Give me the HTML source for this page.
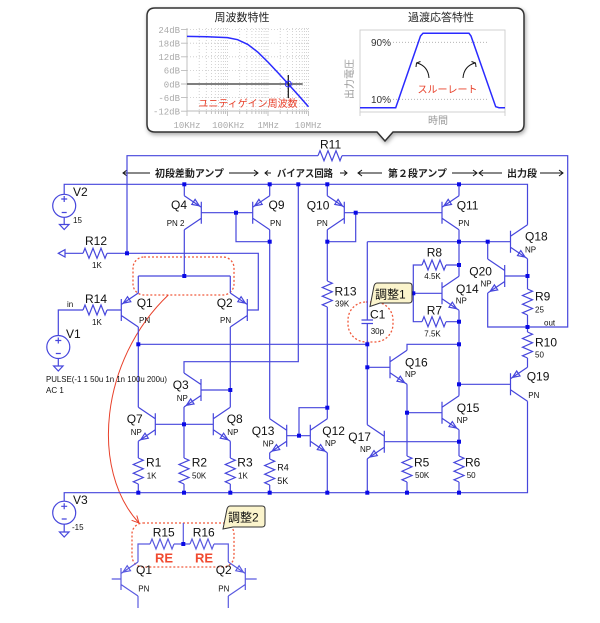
<!DOCTYPE html>
<html><head><meta charset="utf-8"><style>
html,body{margin:0;padding:0;background:#fff;}
svg{display:block;}
</style></head><body>
<svg width="600" height="623" viewBox="0 0 600 623" xmlns="http://www.w3.org/2000/svg" xmlns:xlink="http://www.w3.org/1999/xlink" font-family="'Liberation Sans','Noto Sans CJK JP',sans-serif">
<defs>
<filter id="sh" x="-5%" y="-5%" width="115%" height="125%"><feDropShadow dx="1" dy="2" stdDeviation="2" flood-color="#000" flood-opacity="0.35"/></filter>
<path id="rv" d="M0,0L5,2.2L-5,6.5L5,10.8L-5,15.2L5,19.5L-5,23.8L0,26"/>
<path id="rh" d="M0,0L2,-5L6,5L10,-5L14,5L18,-5L22,5L24,0"/>
<g id="npn"><path d="M0,-11V11M0,-5.5L17,-17M0,5.5L17,17"/><path d="M14.5,15.3L7,13.9L10.3,8.9Z"/></g>
<g id="pnp"><path d="M0,-11V11M0,-5.5L17,-17M0,5.5L17,17"/><path d="M2,-6.9L9.5,-8.3L6.2,-13.3Z"/></g>
</defs>
<rect width="600" height="623" fill="#fff"/>

<!-- ===== top callout ===== -->
<path d="M155,8H516Q524,8 524,16V124Q524,132 516,132H393L385,141L377,132H155Q147,132 147,124V16Q147,8 155,8Z" fill="#fff" stroke="#333" stroke-width="1.5" filter="url(#sh)"/>
<text x="242" y="21" font-size="11" text-anchor="middle" fill="#222">周波数特性</text>
<text x="441" y="21" font-size="11" text-anchor="middle" fill="#222">過渡応答特性</text>

<!-- left chart -->
<g stroke="#c8c8c8" stroke-width="0.8" stroke-dasharray="1 2" fill="none">
<path d="M199.2,28V111M206.3,28V111M211.4,28V111M215.3,28V111M218.5,28V111M221.2,28V111M223.6,28V111M225.6,28V111M227.5,28V111M239.7,28V111M246.8,28V111M251.9,28V111M255.8,28V111M259,28V111M261.7,28V111M264.1,28V111M266.1,28V111M268,28V111M280.2,28V111M287.3,28V111M292.4,28V111M296.3,28V111M299.5,28V111M302.2,28V111M304.6,28V111M306.6,28V111M308.5,28V111"/>
<path d="M187,29.6H308.5M187,43.2H308.5M187,56.8H308.5M187,70.4H308.5M187,97.6H308.5"/>
</g>
<g stroke="#bbb" stroke-width="0.9" fill="none">
<path d="M187,28V111H308.5"/>
<path d="M181,29.6H187M181,43.2H187M181,56.8H187M181,70.4H187M181,84H187M181,97.6H187M181,111.2H187"/>
<path d="M187,111V116M199.2,111V114M206.3,111V114M211.4,111V114M215.3,111V114M218.5,111V114M221.2,111V114M223.6,111V114M225.6,111V114M227.5,111V116M239.7,111V114M246.8,111V114M251.9,111V114M255.8,111V114M259,111V114M261.7,111V114M264.1,111V114M266.1,111V114M268,111V116M280.2,111V114M287.3,111V114M292.4,111V114M296.3,111V114M299.5,111V114M302.2,111V114M304.6,111V114M306.6,111V114M308.5,111V116"/>
</g>
<g font-family="'Liberation Mono',monospace" font-size="9" fill="#aaa" text-anchor="end">
<text x="180" y="33">24dB</text><text x="180" y="46.5">18dB</text><text x="180" y="60">12dB</text><text x="180" y="73.7">6dB</text><text x="180" y="87.3">0dB</text><text x="180" y="101">-6dB</text><text x="180" y="114.5">-12dB</text>
</g>
<g font-family="'Liberation Mono',monospace" font-size="9" fill="#aaa" text-anchor="middle">
<text x="187" y="128">10KHz</text><text x="228.3" y="128">100KHz</text><text x="268.3" y="128">1MHz</text><text x="308.3" y="128">10MHz</text>
</g>
<path d="M187,84H302.7" stroke="#555" stroke-width="1.5"/>
<polyline points="187,36.4 207,36.8 227.5,37.6 237.6,39.7 247.75,44.4 257.9,52.2 268,62.1 278.1,72.9 288.25,84 298.4,95.3 308.5,106.7" fill="none" stroke="#2a2aff" stroke-width="1.5"/>
<path d="M288.3,75V98" stroke="#111" stroke-width="1.2"/>
<circle cx="288.3" cy="84" r="3" fill="none" stroke="#2a2aff" stroke-width="1"/>
<text x="248" y="107" font-size="10" text-anchor="middle" fill="#e8402a">ユニティゲイン周波数</text>

<!-- right chart -->
<rect x="360" y="30" width="145" height="82" fill="none" stroke="#ccc" stroke-width="0.9"/>
<path d="M360,112V116M505,112V116" stroke="#ccc" stroke-width="0.9"/>
<path d="M393,42.3H487M393,99.3H487" stroke="#aaa" stroke-width="0.8" stroke-dasharray="1 2"/>
<polyline points="360,107.7 395.7,107.7 420.5,36 423,33.3 469,33.3 471,36 495.7,106.7 499,107.7 505,107.7" fill="none" stroke="#2a2aff" stroke-width="1.5"/>
<text x="371" y="46" font-size="10" fill="#333">90%</text>
<text x="371" y="103" font-size="10" fill="#333">10%</text>
<text transform="translate(353,79) rotate(-90)" font-size="10" text-anchor="middle" fill="#999">出力電圧</text>
<text x="438" y="124" font-size="10" text-anchor="middle" fill="#999">時間</text>
<g stroke="#111" stroke-width="1" fill="none">
<path d="M429,78Q428,66 417,63"/><path d="M416,67L416.5,63L420.5,61.5"/>
<path d="M463,78Q464,66 475,63"/><path d="M476,67L475.5,63L471.5,61.5"/>
</g>
<text x="447.5" y="93" font-size="10" text-anchor="middle" fill="#e8402a">スルーレート</text>

<!-- ===== section header ===== -->
<g stroke="#111" stroke-width="1" fill="none">
<path d="M123,173H150M127,170L123,173L127,176"/>
<path d="M229,173H258M254,170L258,173L254,176"/>
<path d="M265,173H271M268,170.5L265,173L268,175.5"/>
<path d="M340,173H347M344,170.5L347,173L344,175.5"/>
<path d="M358,173H382M362,170L358,173L362,176"/>
<path d="M452,173H477M473,170L477,173L473,176"/>
<path d="M479,173H502M483,170L479,173L483,176"/>
<path d="M540,173H563M559,170L563,173L559,176"/>
</g>
<g font-size="10" font-weight="bold" fill="#222">
<text x="155" y="177" textLength="69" lengthAdjust="spacingAndGlyphs">初段差動アンプ</text>
<text x="277" y="177" textLength="56" lengthAdjust="spacingAndGlyphs">バイアス回路</text>
<text x="388" y="177" textLength="59" lengthAdjust="spacingAndGlyphs">第２段アンプ</text>
<text x="507" y="177" textLength="30" lengthAdjust="spacingAndGlyphs">出力段</text>
</g>

<!-- ===== red annotations (under wires) ===== -->
<g stroke="#f05a3c" stroke-width="1.3" stroke-dasharray="2 2" fill="none">
<rect x="133" y="257" width="101" height="38" rx="11"/>
<rect x="348" y="302" width="45" height="40" rx="18"/>
<rect x="132" y="523" width="102" height="44" rx="11"/>
</g>
<path d="M168.3,295C100,360 90,470 139,523" fill="none" stroke="#e8402a" stroke-width="1"/>
<polyline points="136.8,515.5 139,523 131.6,520.3" fill="none" stroke="#e8402a" stroke-width="1"/>

<!-- ===== circuit wires ===== -->
<g stroke="#4646dc" stroke-width="1.2" fill="none">
<path d="M127,253.3V155.7H318M342,155.7H567.7V327H487.7V293"/>
<path d="M64.2,194.3V184.3H527.5V224.7"/>
<path d="M184.3,229.7V276M138.3,276H230.3M138.3,276V293M230.3,276V293"/>
<path d="M201.3,212.7H252.7M236,212.7V241.7H269.7"/>
<path d="M269.7,195.7V184.3M184.3,195.7V184.3"/>
<path d="M269.7,229.7V418.7"/>
<path d="M65,253.3H83M107,253.3H258.3V310H247.3"/>
<path d="M58.3,335.5V310H83M107,310H121.3"/>
<path d="M138.3,327V407.3M138.3,344.3H367.3M138.3,441.3V458M138.3,484V492.7"/>
<path d="M155.3,424.3H213.3"/>
<path d="M230.3,327V407.3M230.3,441.3V458M230.3,484V492.7"/>
<path d="M201,390H230.3M184,373V361.7H298.3V184.3M184,407V458M184,484V492.7"/>
<path d="M64.2,501.2V492.7H527.5V401.3"/>
<path d="M327.3,195.7V184.3M327.3,229.7V281M327.3,307V418.7"/>
<path d="M344.3,212.7H442M355.7,212.7V241.7H327.3"/>
<path d="M286.7,435.7H310.3M299,435.7V407.7H327.3"/>
<path d="M269.7,452.7V459M269.7,485V492.7M327.3,452.7V492.7"/>
<path d="M459,195.7V184.3M459,229.7V276.3"/>
<path d="M367.3,241.7H510.5M367.3,241.7V320M367.3,323.5V424.7"/>
<path d="M361.5,320H373M361.5,323.5H373"/>
<path d="M527.5,258.7V289M527.5,315V332M527.5,358V367.3"/>
<path d="M487.7,259V241.7M504.7,276H527.5"/>
<path d="M459,265H446M422,265H413.3V321.7H422M446,321.7H459M413.3,293.3H442"/>
<path d="M459,310.3V395.7"/>
<path d="M407,350.3V344.3H459M367.3,367.3H390M407,384.3V456M407,482V492.7M407,412.7H442"/>
<path d="M459,429.7V456M459,482V492.7M384.3,441.7H459"/>
<path d="M367.3,458.7V492.7"/>
<path d="M459,384.3H510.5"/>
<!-- resistors -->
<use href="#rv" xlink:href="#rv" transform="translate(138.3,458)"/>
<use href="#rv" xlink:href="#rv" transform="translate(184,458)"/>
<use href="#rv" xlink:href="#rv" transform="translate(230.3,458)"/>
<use href="#rv" xlink:href="#rv" transform="translate(269.7,459)"/>
<use href="#rv" xlink:href="#rv" transform="translate(407,456)"/>
<use href="#rv" xlink:href="#rv" transform="translate(459,456)"/>
<use href="#rv" xlink:href="#rv" transform="translate(327.3,281)"/>
<use href="#rv" xlink:href="#rv" transform="translate(527.5,289)"/>
<use href="#rv" xlink:href="#rv" transform="translate(527.5,332)"/>
<use href="#rh" xlink:href="#rh" transform="translate(83,253.3)"/>
<use href="#rh" xlink:href="#rh" transform="translate(83,310)"/>
<use href="#rh" xlink:href="#rh" transform="translate(318,155.7)"/>
<use href="#rh" xlink:href="#rh" transform="translate(422,265)"/>
<use href="#rh" xlink:href="#rh" transform="translate(422,321.7)"/>
<!-- transistors -->
<use href="#pnp" xlink:href="#pnp" transform="translate(252.7,212.7)"/>
<use href="#pnp" xlink:href="#pnp" transform="translate(442,212.7)"/>
<use href="#pnp" xlink:href="#pnp" transform="translate(121.3,310)"/>
<use href="#pnp" xlink:href="#pnp" transform="translate(510.5,384.3)"/>
<use href="#pnp" xlink:href="#pnp" transform="translate(201.3,212.7) scale(-1,1)"/>
<use href="#pnp" xlink:href="#pnp" transform="translate(344.3,212.7) scale(-1,1)"/>
<use href="#pnp" xlink:href="#pnp" transform="translate(247.3,310) scale(-1,1)"/>
<use href="#npn" xlink:href="#npn" transform="translate(213.3,424.3)"/>
<use href="#npn" xlink:href="#npn" transform="translate(310.3,435.7)"/>
<use href="#npn" xlink:href="#npn" transform="translate(390,367.3)"/>
<use href="#npn" xlink:href="#npn" transform="translate(442,412.7)"/>
<use href="#npn" xlink:href="#npn" transform="translate(442,293.3)"/>
<use href="#npn" xlink:href="#npn" transform="translate(510.5,241.7)"/>
<use href="#npn" xlink:href="#npn" transform="translate(155.3,424.3) scale(-1,1)"/>
<use href="#npn" xlink:href="#npn" transform="translate(201,390) scale(-1,1)"/>
<use href="#npn" xlink:href="#npn" transform="translate(286.7,435.7) scale(-1,1)"/>
<use href="#npn" xlink:href="#npn" transform="translate(384.3,441.7) scale(-1,1)"/>
<use href="#npn" xlink:href="#npn" transform="translate(504.7,276) scale(-1,1)"/>
<!-- sources -->
<circle cx="64.2" cy="205.8" r="11.5"/>
<path d="M61.2,199H67.2M64.2,196V202M61.7,212.5H66.7"/>
<path d="M64.2,217.3V224.5M59.5,224.5H69L64.2,229.5Z"/>
<circle cx="58.3" cy="347" r="11.5"/>
<path d="M55.3,340.5H61.3M58.3,337.5V343.5M55.8,353.5H60.8"/>
<path d="M58.3,358.5V366M53.6,366H63L58.3,371Z"/>
<circle cx="64.2" cy="512.7" r="11.5"/>
<path d="M61.2,506.3H67.2M64.2,503.3V509.3M61.7,519H66.7"/>
<path d="M64.2,524.2V532M59.5,532H69L64.2,537Z"/>
<path d="M58.3,253.3L65,249.6V257Z"/>
</g>

<!-- lower detail -->
<g stroke="#5a5ae0" stroke-width="1.2" fill="none">
<path d="M138,562V544H150M174,544H183.3V523M183.3,544H190M214,544H228.3V562"/>
<path d="M111.7,579H121M245.3,579H256.7M138,596V608M228.3,596V608"/>
<use href="#rh" xlink:href="#rh" transform="translate(150,544)"/>
<use href="#rh" xlink:href="#rh" transform="translate(190,544)"/>
<use href="#pnp" xlink:href="#pnp" transform="translate(121,579)"/>
<use href="#pnp" xlink:href="#pnp" transform="translate(245.3,579) scale(-1,1)"/>
</g>

<!-- nodes -->
<g fill="#0a0ae6">
<rect x="125" y="251.3" width="4" height="4"/>
<rect x="182.3" y="182.3" width="4" height="4"/>
<rect x="267.7" y="182.3" width="4" height="4"/>
<rect x="296.3" y="182.3" width="4" height="4"/>
<rect x="325.3" y="182.3" width="4" height="4"/>
<rect x="457" y="182.3" width="4" height="4"/>
<rect x="234" y="210.7" width="4" height="4"/>
<rect x="267.7" y="239.7" width="4" height="4"/>
<rect x="182.3" y="274" width="4" height="4"/>
<rect x="136.3" y="342.3" width="4" height="4"/>
<rect x="365.3" y="342.3" width="4" height="4"/>
<rect x="228.3" y="388" width="4" height="4"/>
<rect x="182" y="422.3" width="4" height="4"/>
<rect x="136.3" y="490.7" width="4" height="4"/>
<rect x="182" y="490.7" width="4" height="4"/>
<rect x="228.3" y="490.7" width="4" height="4"/>
<rect x="267.7" y="490.7" width="4" height="4"/>
<rect x="325.3" y="490.7" width="4" height="4"/>
<rect x="365.3" y="490.7" width="4" height="4"/>
<rect x="405" y="490.7" width="4" height="4"/>
<rect x="457" y="490.7" width="4" height="4"/>
<rect x="325.3" y="239.7" width="4" height="4"/>
<rect x="353.7" y="210.7" width="4" height="4"/>
<rect x="297" y="433.7" width="4" height="4"/>
<rect x="325.3" y="405.7" width="4" height="4"/>
<rect x="365.3" y="365.3" width="4" height="4"/>
<rect x="405" y="410.7" width="4" height="4"/>
<rect x="457" y="439.7" width="4" height="4"/>
<rect x="457" y="382.3" width="4" height="4"/>
<rect x="457" y="342.3" width="4" height="4"/>
<rect x="457" y="319.7" width="4" height="4"/>
<rect x="457" y="263" width="4" height="4"/>
<rect x="457" y="239.7" width="4" height="4"/>
<rect x="411.3" y="291.3" width="4" height="4"/>
<rect x="485.7" y="239.7" width="4" height="4"/>
<rect x="525.5" y="274" width="4" height="4"/>
<rect x="525.5" y="325" width="4" height="4"/>
<rect x="181.3" y="542" width="4" height="4"/>
</g>

<!-- ===== labels ===== -->
<g font-size="12" fill="#111">
<text x="73" y="196">V2</text>
<text x="66" y="338">V1</text>
<text x="73" y="504">V3</text>
<text x="320" y="148.3">R11</text>
<text x="85" y="245">R12</text>
<text x="85" y="303">R14</text>
<text x="171" y="209">Q4</text>
<text x="268.5" y="209">Q9</text>
<text x="306.7" y="209.3">Q10</text>
<text x="456.7" y="209.3">Q11</text>
<text x="136.7" y="307">Q1</text>
<text x="216.7" y="307">Q2</text>
<text x="172.7" y="389">Q3</text>
<text x="126.7" y="423">Q7</text>
<text x="226.7" y="423">Q8</text>
<text x="251.7" y="435">Q13</text>
<text x="322.3" y="435">Q12</text>
<text x="348.3" y="441">Q17</text>
<text x="405" y="366.7">Q16</text>
<text x="456.7" y="412">Q15</text>
<text x="456" y="293">Q14</text>
<text x="469.3" y="275.7">Q20</text>
<text x="525" y="240.7">Q18</text>
<text x="526.7" y="380.7">Q19</text>
<text x="146" y="466.7">R1</text>
<text x="191.7" y="466.7">R2</text>
<text x="237.3" y="466.7">R3</text>
<text x="414" y="466.7">R5</text>
<text x="465" y="466.7">R6</text>
<text x="334.5" y="295.7">R13</text>
<text x="426.7" y="256.7">R8</text>
<text x="426.7" y="314.3">R7</text>
<text x="535" y="300.7">R9</text>
<text x="535" y="346.7">R10</text>
<text x="370" y="318.3">C1</text>
<text x="152.7" y="536.7">R15</text>
<text x="192.7" y="536.7">R16</text>
<text x="136" y="574">Q1</text>
<text x="215.7" y="574">Q2</text>
</g>
<g font-size="9" fill="#111">
<text x="277.3" y="470.7">R4</text>
<text x="277.3" y="484">5K</text>
</g>
<g font-size="8" fill="#111">
<text x="73" y="223">15</text>
<text x="72" y="530">-15</text>
<text x="92" y="268">1K</text>
<text x="92" y="325">1K</text>
<text x="67" y="307">in</text>
<text x="166.7" y="226">PN 2</text>
<text x="270" y="226">PN</text>
<text x="316.7" y="226">PN</text>
<text x="458.3" y="226">PN</text>
<text x="139" y="323">PN</text>
<text x="220" y="323">PN</text>
<text x="176.7" y="401">NP</text>
<text x="130.7" y="435">NP</text>
<text x="227.3" y="435">NP</text>
<text x="262.7" y="446.7">NP</text>
<text x="325" y="446">NP</text>
<text x="360" y="452">NP</text>
<text x="405" y="377">NP</text>
<text x="456.7" y="423">NP</text>
<text x="455.7" y="303.3">NP</text>
<text x="480.5" y="286.5">NP</text>
<text x="525" y="252.7">NP</text>
<text x="528.3" y="398">PN</text>
<text x="146.7" y="478.3">1K</text>
<text x="192" y="478.3">50K</text>
<text x="238" y="478.3">1K</text>
<text x="415" y="478">50K</text>
<text x="466.7" y="478">50</text>
<text x="335" y="306.7">39K</text>
<text x="424.3" y="279">4.5K</text>
<text x="424.3" y="336.7">7.5K</text>
<text x="535" y="312.3">25</text>
<text x="535" y="357.3">50</text>
<text x="544" y="325.7">out</text>
<text x="370.7" y="334">30p</text>
<text x="138.3" y="591.7">PN</text>
<text x="218.3" y="591.7">PN</text>
<text x="46" y="382" textLength="121" lengthAdjust="spacingAndGlyphs">PULSE(-1 1 50u 1n 1n 100u 200u)</text>
<text x="46" y="393">AC 1</text>
</g>
<g font-size="13" font-weight="bold" fill="#f04a30">
<text x="155" y="562.7">RE</text>
<text x="195" y="562.7">RE</text>
</g>

<!-- callouts -->
<path d="M377,283H409Q412,283 412,286V300Q412,303 409,303H380L370,306.5L374,286Q375,283 377,283Z" fill="#fbf4cc" stroke="#333" stroke-width="1"/>
<text x="375" y="298.5" font-size="12" fill="#111">調整1</text>
<path d="M230,506H262Q265,506 265,509V524Q265,527 262,527H233L223,529L227,509Q228,506 230,506Z" fill="#fbf4cc" stroke="#333" stroke-width="1"/>
<text x="228" y="521.5" font-size="12" fill="#111">調整2</text>
</svg>
</body></html>
